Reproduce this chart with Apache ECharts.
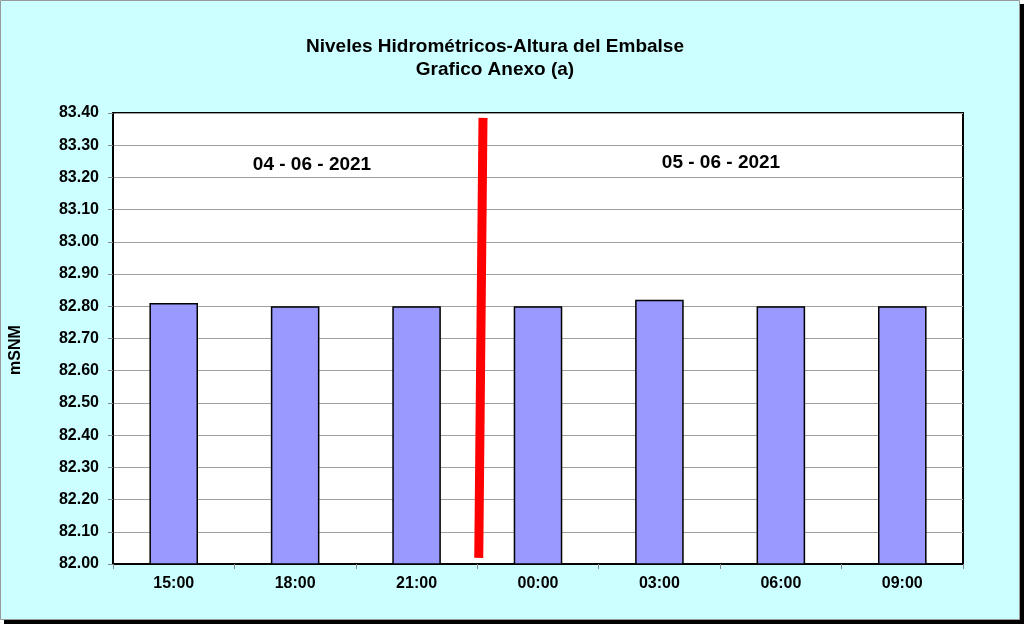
<!DOCTYPE html>
<html>
<head>
<meta charset="utf-8">
<script src="https://cdn.jsdelivr.net/npm/echarts@6/dist/echarts.min.js"></script>
<style>html,body{margin:0;padding:0;background:#fff;}#c{width:1024px;height:624px;}</style>
</head>
<body>
<div id="c"></div>
<script>
var categories = ['15:00', '18:00', '21:00', '00:00', '03:00', '06:00', '09:00'];
var levels = [82.81, 82.80, 82.80, 82.80, 82.82, 82.80, 82.80];
var dividerPoints = [[3.047, 83.385], [3.012, 82.019]];
var dayLabels = ['04 - 06 - 2021', '05 - 06 - 2021'];
var titleLines = ['Niveles Hidrométricos-Altura del Embalse', 'Grafico Anexo (a)'];
var axisName = 'mSNM';
var yMin = 82.0, yMax = 83.4, yStep = 0.1;

var font = '"Liberation Sans", Arial, sans-serif';
var chart = echarts.init(document.getElementById('c'));
chart.setOption({
  backgroundColor: '#ffffff',
  animation: false,
  graphic: [
    { type: 'rect', z: -10, silent: true, shape: { x: 4, y: 4, width: 1020, height: 620 }, style: { fill: '#000' } },
    { type: 'rect', z: -9, silent: true, shape: { x: 0.5, y: 0.5, width: 1019, height: 619 }, style: { fill: '#CCFFFF', stroke: '#9a9a9a', lineWidth: 1 } },
    { type: 'text', z: 10, x: 312, y: 165, style: { text: dayLabels[0], font: 'bold 19px ' + font, fill: '#000', textAlign: 'center', textVerticalAlign: 'middle' } },
    { type: 'text', z: 10, x: 721, y: 163, style: { text: dayLabels[1], font: 'bold 19px ' + font, fill: '#000', textAlign: 'center', textVerticalAlign: 'middle' } },
    { type: 'text', z: 10, x: 16, y: 350, rotation: Math.PI / 2, style: { text: axisName, font: 'bold 16px ' + font, fill: '#000', textAlign: 'center', textVerticalAlign: 'middle' } }
  ],
  title: {
    text: titleLines.join('\n'),
    left: 490, top: 30, textAlign: 'center',
    textStyle: { fontFamily: font, fontWeight: 'bold', fontSize: 19, lineHeight: 23, color: '#000' }
  },
  grid: {
    left: 113, top: 113, right: 61, bottom: 60,
    show: true, backgroundColor: '#fff', borderColor: '#000', borderWidth: 2
  },
  xAxis: [
    {
      type: 'category', data: categories,
      axisLine: { lineStyle: { color: '#000', width: 2 } },
      axisTick: { show: true, length: 5, lineStyle: { color: '#888' } },
      axisLabel: { margin: 12, fontFamily: font, fontWeight: 'bold', fontSize: 16, color: '#000' }
    },
    { type: 'value', min: 0, max: 7, show: false }
  ],
  yAxis: {
    type: 'value', min: yMin, max: yMax, interval: yStep,
    axisLine: { show: true, lineStyle: { color: '#000', width: 2 } },
    axisTick: { show: true, length: 5, lineStyle: { color: '#888' } },
    axisLabel: { margin: 14, fontFamily: font, fontWeight: 'bold', fontSize: 16, color: '#000', formatter: function (v) { return v.toFixed(2); } },
    splitLine: { show: true, lineStyle: { color: '#a0a0a0', width: 1 } }
  },
  series: [
    {
      type: 'bar', data: levels, barWidth: '40%',
      itemStyle: { color: '#9999FF', borderColor: '#000', borderWidth: 1.5 }
    },
    {
      type: 'line', xAxisIndex: 1, yAxisIndex: 0, data: dividerPoints,
      symbol: 'none', z: 5,
      lineStyle: { color: '#FF0000', width: 9, cap: 'butt' }
    }
  ]
});
</script>
</body>
</html>
